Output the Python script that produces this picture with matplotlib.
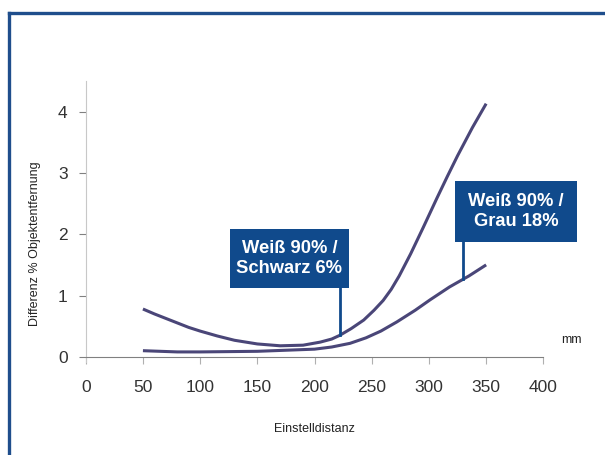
import numpy as np
import matplotlib
matplotlib.use("Agg")
import matplotlib.pyplot as plt
from matplotlib.lines import Line2D
from matplotlib.patches import Rectangle

plt.rcParams['font.family'] = ['Liberation Sans', 'DejaVu Sans']

# Data
x_schwarz = [50, 60, 75, 90, 100, 115, 130, 150, 170, 190, 205, 215, 222, 232,
             243, 252, 260, 267, 274, 284, 295, 307, 316, 325, 338, 350]
y_schwarz = [0.78, 0.70, 0.59, 0.48, 0.42, 0.34, 0.27, 0.21, 0.18, 0.19, 0.24,
             0.29, 0.35, 0.46, 0.60, 0.76, 0.92, 1.10, 1.32, 1.68, 2.11, 2.59,
             2.94, 3.28, 3.74, 4.13]

x_grau = [50, 80, 100, 150, 200, 215, 231, 245, 258, 272, 288, 301, 318, 335, 350]
y_grau = [0.10, 0.08, 0.08, 0.09, 0.125, 0.16, 0.22, 0.31, 0.42, 0.57, 0.76,
          0.93, 1.14, 1.32, 1.50]

x_ticks = [0, 50, 100, 150, 200, 250, 300, 350, 400]
y_ticks = [0, 1, 2, 3, 4]

label_schwarz = 'Weiß 90% /\nSchwarz 6%'
label_grau = 'Weiß 90% /\nGrau 18%'

line_color = '#4a4678'
box_color = '#104a8c'
frame_color = '#1f4e8c'

fig = plt.figure(figsize=(6.05, 4.55), dpi=100)
ax = fig.add_axes([0.1417, 0.205, 0.7564, 0.617])

ax.plot(x_schwarz, y_schwarz, color=line_color, lw=2.2, solid_capstyle='butt')
ax.plot(x_grau, y_grau, color=line_color, lw=2.2, solid_capstyle='butt')

ax.set_xlim(0, 400)
ax.set_ylim(-0.08, 4.5)
ax.set_xticks(x_ticks)
ax.set_yticks(y_ticks)

for s in ['top', 'right']:
    ax.spines[s].set_visible(False)
ax.spines['bottom'].set_position(('data', 0))
ax.spines['bottom'].set_color('#808080')
ax.spines['left'].set_color('#c8c8c8')
ax.tick_params(axis='x', length=5, color='#b0b0b0', pad=12, labelsize=12.5,
               labelcolor='#333333')
ax.tick_params(axis='y', length=5, color='#808080', pad=8, labelsize=12.5,
               labelcolor='#333333')

ax.set_xlabel('Einstelldistanz', fontsize=9, color='#222222')
ax.xaxis.set_label_coords(0.5, -0.22)
ax.set_ylabel('Differenz % Objektentfernung', fontsize=9, color='#222222')
ax.yaxis.set_label_coords(-0.098, 0.42)

ax.text(416, 0.18, 'mm', fontsize=9, color='#222222', ha='left', va='bottom')

# annotation boxes with connectors
def callout(x0, x1, y0, y1, text, xc, curve_x, curve_y):
    ax.add_patch(Rectangle((x0, y0), x1 - x0, y1 - y0, facecolor=box_color,
                           edgecolor='none', clip_on=False, zorder=4))
    ax.text((x0 + x1) / 2, (y0 + y1) / 2, text, color='white', fontsize=13.2,
            fontweight='bold', ha='center', va='center', linespacing=1.2,
            zorder=5, clip_on=False)
    yc = np.interp(xc, curve_x, curve_y)
    ax.plot([xc, xc], [y0, yc], color=box_color, lw=2, zorder=3)

callout(126.2, 230.0, 1.12, 2.08, label_schwarz, 222.5, x_schwarz, y_schwarz)
callout(323.1, 429.0, 1.88, 2.87, label_grau, 330.0, x_grau, y_grau)

# outer frame
fig.add_artist(Line2D([0.0149, 1.0], [0.9725, 0.9725], color=frame_color, lw=2.4))
fig.add_artist(Line2D([0.0149, 0.0149], [0.0, 0.9725], color=frame_color, lw=2.4))

fig.savefig('out.png', dpi=100)
